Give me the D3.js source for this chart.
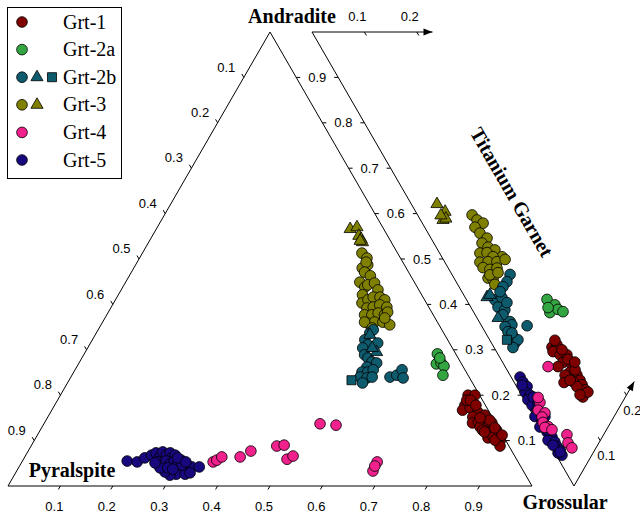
<!DOCTYPE html>
<meta charset="utf-8">
<style>
body { margin: 0; background: #fff; }
.tlab { font: 13px "Liberation Sans", Arial, sans-serif; fill: #000; }
.title { font: bold 20px "Liberation Serif", "Times New Roman", serif; fill: #000; }
.leg { font: 20px "Liberation Serif", "Times New Roman", serif; fill: #000; }
</style>
<body>
<script src="https://cdn.jsdelivr.net/npm/d3@7"></script>
<script>
// ternary 1: Pyralspite - Grossular - Andradite, values are [Grs, Adr]
var grt1Main = [[.778,.200],[.791,.200],[.783,.178],[.784,.167],[.796,.172],[.815,.163],[.811,.152],[.817,.139],[.831,.150],[.827,.141],[.844,.141],[.836,.130],[.851,.130],[.860,.119],[.871,.123],[.879,.112],[.863,.106],[.872,.108],[.889,.101],[.895,.088],[.879,.101],[.781,.189],[.844,.123],[.854,.139],[.788,.189],[.804,.178],[.832,.156],[.847,.145],[.865,.128],[.850,.119],[.887,.112],[.826,.150]];
var grt2aMain = [[.674,.291],[.683,.269],[.691,.271],[.700,.264],[.708,.244],[.683,.282]];
var grt2bMainCircle = [[.522,.337],[.525,.344],[.520,.322],[.531,.311],[.548,.315],[.525,.304],[.536,.289],[.546,.282],[.558,.273],[.568,.271],[.554,.262],[.550,.251],[.561,.251],[.569,.256],[.552,.240],[.566,.238],[.575,.240],[.563,.227],[.609,.240],[.620,.244],[.624,.256],[.635,.238]];
var grt2bMainTri = [[.524,.333],[.556,.295],[.543,.304]];
var grt2bMainSq = [[.539,.233]];
var grt3MainCircle = [[.419,.513],[.434,.502],[.443,.487],[.436,.480],[.437,.493],[.445,.471],[.460,.463],[.447,.449],[.462,.438],[.465,.443],[.476,.447],[.490,.432],[.466,.421],[.474,.403],[.482,.410],[.489,.416],[.502,.416],[.514,.410],[.489,.392],[.500,.394],[.510,.399],[.526,.394],[.492,.377],[.506,.377],[.516,.381],[.530,.377],[.533,.383],[.507,.359],[.519,.361],[.535,.361],[.551,.355],[.500,.361],[.521,.348],[.534,.370]];
var grt3MainTri = [[.370,.566],[.381,.570],[.394,.551],[.402,.544],[.408,.537],[.402,.540]];
var grt4Main = [[.365,.053],[.370,.057],[.376,.064],[.411,.064],[.425,.077],[.469,.088],[.482,.090],[.503,.059],[.511,.066],[.527,.137],[.559,.134],[.678,.053],[.680,.033],[.678,.044]];
var grt5Main = [[.200,.055],[.220,.053],[.230,.062],[.240,.068],[.246,.073],[.258,.064],[.258,.075],[.268,.068],[.273,.073],[.282,.062],[.285,.068],[.260,.053],[.271,.046],[.274,.055],[.285,.048],[.290,.055],[.300,.048],[.302,.057],[.314,.044],[.325,.037],[.330,.042],[.344,.042],[.310,.035],[.308,.026],[.297,.024],[.284,.031],[.325,.026],[.270,.040],[.255,.051],[.285,.040],[.309,.046],[.293,.062],[.313,.053],[.296,.037],[.333,.029]];

// ternary 2: Andradite - Grossular - Titanium Garnet, values are [Adr, Ti]
var grt1Ti = [[.195,.111],[.188,.123],[.188,.108],[.171,.118],[.158,.131],[.157,.115],[.162,.101],[.138,.130],[.133,.118],[.139,.105],[.117,.128],[.105,.128],[.117,.113],[.096,.127],[.085,.127],[.081,.115],[.104,.115],[.151,.128],[.126,.130],[.133,.095],[.197,.124],[.173,.127],[.135,.138],[.077,.130],[.089,.112],[.124,.109]];
var grt2aTi = [[.257,.154],[.236,.163],[.237,.145],[.225,.164],[.213,.171],[.246,.147]];
var grt2bTiCircle = [[.355,.111],[.353,.097],[.355,.084],[.356,.054],[.345,.070],[.342,.052],[.326,.062],[.324,.053],[.303,.059],[.296,.059],[.307,.044],[.296,.044],[.281,.048],[.270,.045],[.268,.054],[.266,.087],[.287,.050],[.269,.036],[.355,.073],[.330,.074]];
var grt2bTiTri = [[.374,.042],[.371,.050],[.330,.040]];
var grt2bTiSq = [[.289,.033]];
var grt3TiCircle = [[.493,.104],[.478,.108],[.463,.116],[.474,.096],[.458,.099],[.439,.107],[.443,.092],[.427,.099],[.411,.109],[.436,.077],[.423,.091],[.390,.115],[.407,.098],[.426,.067],[.411,.083],[.394,.100],[.414,.067],[.399,.078],[.387,.093],[.393,.065],[.382,.073],[.373,.071],[.393,.072],[.380,.090],[.381,.118]];
var grt3TiTri = [[.572,.049],[.548,.056],[.543,.043],[.539,.050],[.552,.044]];
var grt4Ti = [[.181,.082],[.157,.027],[.152,.015],[.136,.025],[.137,.015],[.129,.011],[.115,.016],[.120,.009],[.104,.020],[.070,.043],[.059,.036],[.046,.038],[.166,.029]];
var grt5Ti = [[.223,.017],[.212,.017],[.199,.020],[.197,.010],[.184,.016],[.183,.007],[.169,.009],[.154,.013],[.151,.002],[.132,.010],[.130,.000],[.111,.008],[.096,.012],[.100,.001],[.085,.012],[.076,.011],[.066,.013],[.057,.011],[.067,.006],[.085,.005],[.176,.020],[.160,.023],[.132,.021],[.210,.012],[.111,.012],[.064,.011]];

var series = ["Grt-1", "Grt-2a", "Grt-2b", "Grt-3", "Grt-4", "Grt-5"];
var ticks = [0.1, 0.2, 0.3, 0.4, 0.5, 0.6, 0.7, 0.8, 0.9];
var tiTicks = [0.1, 0.2];

var color = {"Grt-1": "#800000", "Grt-2a": "#33a642", "Grt-2b": "#0f5b6e",
             "Grt-3": "#808000", "Grt-4": "#f0208c", "Grt-5": "#17087e"};

var width = 640, height = 516;
var x = d3.scaleLinear().domain([0, 1]).range([8, 532]);     // along base
var y = d3.scaleLinear().domain([0, 1]).range([486, 32]);    // andradite height
var x2 = d3.scaleLinear().domain([-1, 1]).range([312, 836]); // Ti - Adr offset

function posMain(d) { return [x(d[0] + d[1] / 2), y(d[1])]; }
function posTi(d) { return [x2(d[1] - d[0]), y(d[0] + d[1])]; }

var svg = d3.select("body").append("svg")
    .attr("width", width)
    .attr("height", height);

var line = d3.line();
var axes = svg.append("g").attr("fill", "none").attr("stroke", "#000").attr("stroke-width", 1);

// main triangle
axes.append("path").attr("d", line([posMain([0, 0]), posMain([1, 0]), posMain([0, 1])]) + "Z");
// second triangle: Adr-Grs edge plus the two Ti arrows
var tiEnd = 0.23;
axes.append("path").attr("d", line([posTi([1 - tiEnd, tiEnd]), posTi([1, 0]), posTi([0, 0]), posTi([0, tiEnd])]));

function arrowHead(p, q) {
  var dx = q[0] - p[0], dy = q[1] - p[1], L = Math.sqrt(dx * dx + dy * dy);
  var ux = dx / L, uy = dy / L, l = 9, w = 3.5;
  svg.append("path")
    .attr("d", line([q, [q[0] - ux * l - uy * w, q[1] - uy * l + ux * w], [q[0] - ux * l + uy * w, q[1] - uy * l - ux * w]]) + "Z")
    .attr("fill", "#000");
}
arrowHead(posTi([1, 0]), posTi([1 - tiEnd, tiEnd]));
arrowHead(posTi([0, 0]), posTi([0, tiEnd]));

var tl = 4, c60 = 0.5, s60 = Math.sqrt(3) / 2;
function tick(p, dx, dy) {
  axes.append("line").attr("x1", p[0]).attr("y1", p[1])
    .attr("x2", p[0] + dx * tl).attr("y2", p[1] + dy * tl);
}
function label(px, py, t) {
  svg.append("text").attr("class", "tlab").attr("x", px).attr("y", py + 4.6)
    .attr("text-anchor", "middle").text(t);
}

ticks.forEach(function(v) {
  // bottom (Grossular)
  var pb = posMain([v, 0]);
  tick(pb, -c60, s60);
  label(pb[0] - 6, pb[1] + 20, v);
  // left (Pyralspite)
  var pl = posMain([0, 1 - v]);
  tick(pl, -c60, -s60);
  label(pl[0] - 17.5, pl[1] - 10.5, v);
  // right of main triangle and left of Ti triangle (Andradite)
  var pr = posMain([1 - v, v]), pt = posTi([v, 0]);
  tick(pr, 1, 0);
  tick(pt, -1, 0);
  label((pr[0] + pt[0]) / 2, pr[1], v);
});

tiTicks.forEach(function(t) {
  var pa = posTi([1 - t, t]);
  tick(pa, c60, s60);
  label(pa[0] - 7, pa[1] - 15.5, t);
  var pc = posTi([0, t]);
  tick(pc, -c60, -s60);
  label(pc[0] + 6, pc[1] + 15, t);
});

// titles
svg.append("text").attr("class", "title").attr("x", 292).attr("y", 23).attr("text-anchor", "middle").text("Andradite");
svg.append("text").attr("class", "title").attr("x", 72).attr("y", 477).attr("text-anchor", "middle").text("Pyralspite");
svg.append("text").attr("class", "title").attr("x", 565).attr("y", 509).attr("text-anchor", "middle").text("Grossular");
svg.append("text").attr("class", "title").attr("text-anchor", "middle")
    .attr("transform", "translate(512,192) rotate(60)").attr("y", 7).text("Titanium Garnet");

// markers
var shapes = {circle: d3.symbolCircle, tri: d3.symbolTriangle, sq: d3.symbolSquare};
var sizes = {circle: 90, tri: 64, sq: 82};
function plot(data, pos, name, shape) {
  svg.append("g").selectAll("path")
    .data(data)
    .enter().append("path")
      .attr("d", d3.symbol().type(shapes[shape]).size(sizes[shape]))
      .attr("transform", function(d) { var p = pos(d); return "translate(" + p[0] + "," + p[1] + ")"; })
      .attr("fill", color[name])
      .attr("stroke", "#000")
      .attr("stroke-width", 0.8);
}

plot(grt5Main, posMain, "Grt-5", "circle");
plot(grt5Ti, posTi, "Grt-5", "circle");
plot(grt3MainCircle, posMain, "Grt-3", "circle");
plot(grt3MainTri, posMain, "Grt-3", "tri");
plot(grt3TiCircle, posTi, "Grt-3", "circle");
plot(grt3TiTri, posTi, "Grt-3", "tri");
plot(grt2bMainCircle, posMain, "Grt-2b", "circle");
plot(grt2bMainTri, posMain, "Grt-2b", "tri");
plot(grt2bMainSq, posMain, "Grt-2b", "sq");
plot(grt2bTiCircle, posTi, "Grt-2b", "circle");
plot(grt2bTiTri, posTi, "Grt-2b", "tri");
plot(grt2bTiSq, posTi, "Grt-2b", "sq");
plot(grt2aMain, posMain, "Grt-2a", "circle");
plot(grt2aTi, posTi, "Grt-2a", "circle");
plot(grt1Main, posMain, "Grt-1", "circle");
plot(grt1Ti, posTi, "Grt-1", "circle");
plot(grt4Main, posMain, "Grt-4", "circle");
plot(grt4Ti, posTi, "Grt-4", "circle");

// legend
var legend = svg.append("g");
legend.append("rect").attr("x", 7.5).attr("y", 7.5).attr("width", 114).attr("height", 171)
    .attr("fill", "#fff").attr("stroke", "#000").attr("stroke-width", 1);
var legShapes = {"Grt-1": ["circle"], "Grt-2a": ["circle"], "Grt-2b": ["circle", "tri", "sq"],
                 "Grt-3": ["circle", "tri"], "Grt-4": ["circle"], "Grt-5": ["circle"]};
series.forEach(function(s, i) {
  var cy = 22 + i * 27.6;
  legShapes[s].forEach(function(sh, j) {
    legend.append("path")
      .attr("d", d3.symbol().type(shapes[sh]).size(sizes[sh])())
      .attr("transform", "translate(" + (22 + j * 15) + "," + cy + ")")
      .attr("fill", color[s]).attr("stroke", "#000").attr("stroke-width", 0.8);
  });
  legend.append("text").attr("class", "leg").attr("x", 63).attr("y", cy + 6.5).text(s);
});
</script>
</body>
